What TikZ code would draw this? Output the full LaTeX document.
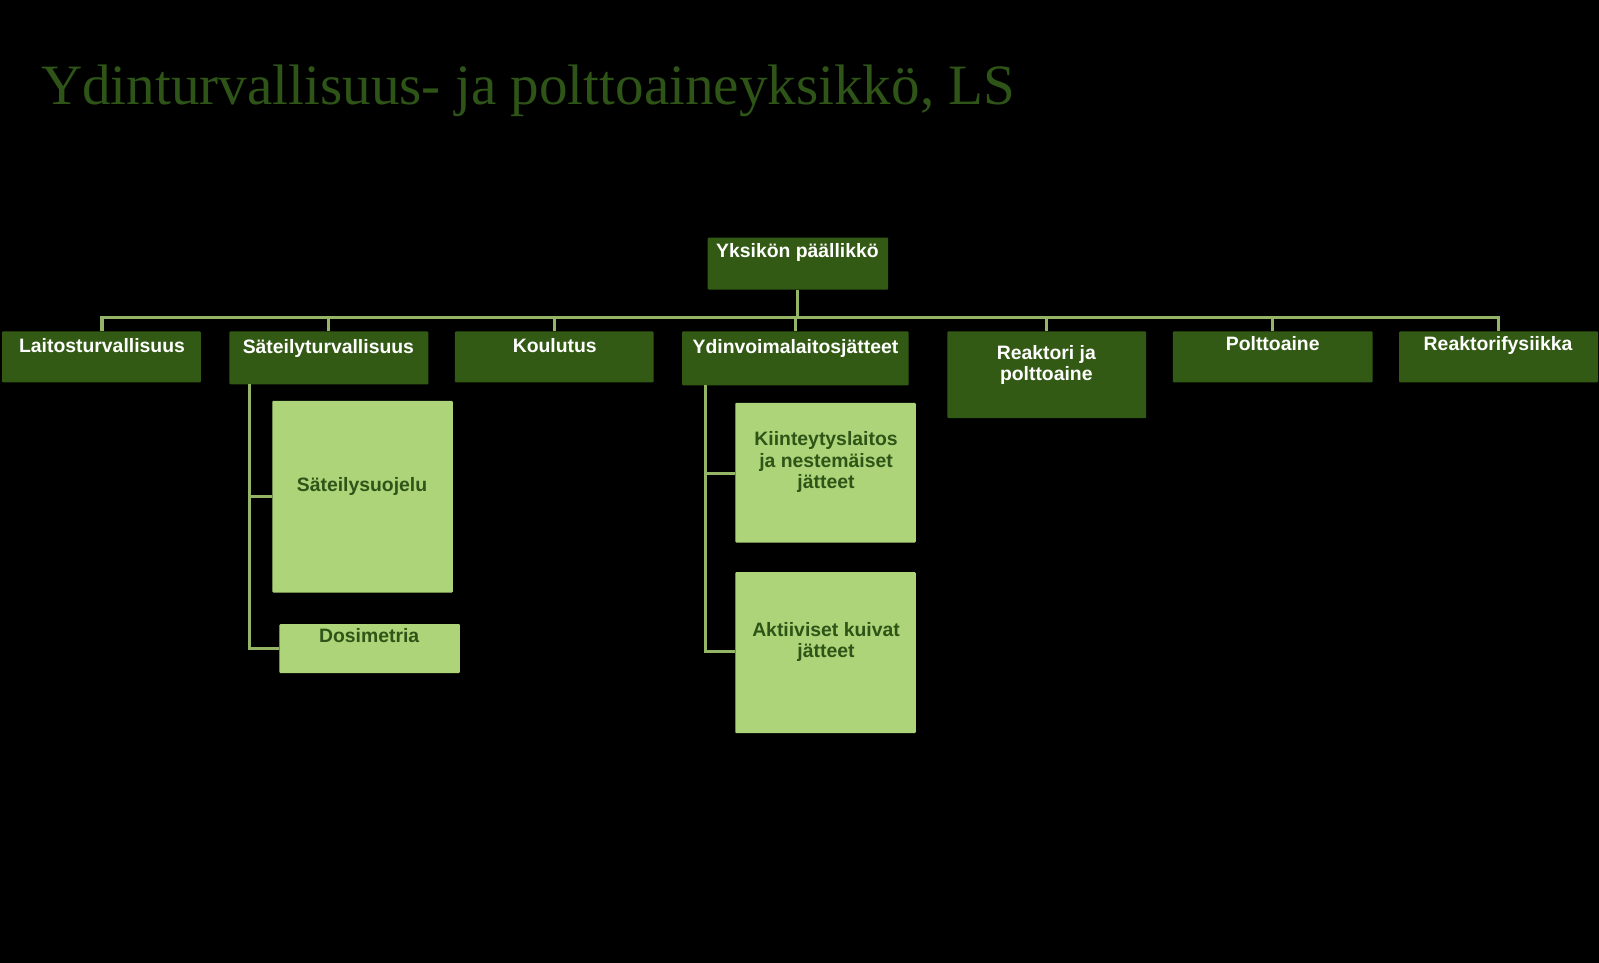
\documentclass[tikz,border=0pt]{standalone}
\usepackage{fontspec}
\setmainfont{Liberation Serif}
\newfontfamily\arial{Liberation Sans}
\definecolor{dg}{HTML}{335A14}
\definecolor{lg}{HTML}{AED47A}
\definecolor{ln}{HTML}{93B565}
\definecolor{tc}{HTML}{2E5417}
\begin{document}
\begin{tikzpicture}[x=0.5pt,y=-0.5pt,
  dbox/.style={fill=dg,draw=none,rounded corners=0.5pt},
  lbox/.style={fill=lg,draw=none,rounded corners=0.5pt},
  wt/.style={text=white,font=\arial\bfseries\fontsize{9.5}{10.5}\selectfont,align=center,inner sep=0pt,anchor=north},
  gt/.style={text=tc,font=\arial\bfseries\fontsize{9.5}{10.5}\selectfont,align=center,inner sep=0pt,anchor=north},
  conn/.style={draw=ln,line width=1.5pt}]
\fill[black] (0,0) rectangle (1568,944);
\useasboundingbox (0,0) rectangle (1568,944);
\node[text=tc,font=\fontsize{28}{30}\selectfont,anchor=base west,inner sep=0pt] (title) at (40,102) {Ydinturvallisuus- ja polttoaineyksikkö, LS};
% boxes
\newcommand\bx[6]{\path[#6] (#2,#3) rectangle (#4,#5) coordinate (#1-se); \coordinate (#1-n) at ({(#2+#4)/2},#3);}
\bx{top}{694}{233}{871}{284}{dbox}
\bx{a}{2}{325}{197}{375}{dbox}
\bx{b}{225}{325}{420}{377}{dbox}
\bx{c}{446}{325}{641}{375}{dbox}
\bx{d}{669}{325}{891}{378}{dbox}
\bx{e}{929}{325}{1124}{410}{dbox}
\bx{f}{1150}{325}{1346}{375}{dbox}
\bx{g}{1372}{325}{1567}{375}{dbox}
\bx{b1}{267}{393}{444}{581}{lbox}
\bx{b2}{274}{612}{451}{660}{lbox}
\bx{d1}{721}{395}{898}{532}{lbox}
\bx{d2}{721}{561}{898}{719}{lbox}
% connectors
\coordinate (hub) at (782,311);
\draw[conn] (782,284) -- (hub);
\draw[conn] (100,325) -- (100,311) -- (1469,311) -- (1469,325);
\foreach \x in {322,544,780,1026,1248} \draw[conn] (\x,311) -- (\x,325);
\draw[conn] (245,377) -- (245,636) -- (274,636);
\draw[conn] (245,487) -- (267,487);
\draw[conn] (692,378) -- (692,639) -- (721,639);
\draw[conn] (692,464) -- (721,464);
% texts
\node[wt] (t0) at (782,238) {Yksikön päällikkö};
\node[wt] (t1) at (100,331) {Laitosturvallisuus};
\node[wt] (t2) at (322,332) {Säteilyturvallisuus};
\node[wt] (t3) at (544,331) {Koulutus};
\node[wt] (t4) at (780,332) {Ydinvoimalaitosjätteet};
\node[wt] (t5) at (1026,338) {Reaktori ja\\polttoaine};
\node[wt] (t6) at (1248,330) {Polttoaine};
\node[wt] (t7) at (1469,330) {Reaktorifysiikka};
\node[gt] (t8) at (355,468) {Säteilysuojelu};
\node[gt] (t9) at (362,616) {Dosimetria};
\node[gt] (t10) at (810,423) {Kiinteytyslaitos\\ja nestemäiset\\jätteet};
\node[gt] (t11) at (810,610) {Aktiiviset kuivat\\jätteet};
\end{tikzpicture}
\end{document}
